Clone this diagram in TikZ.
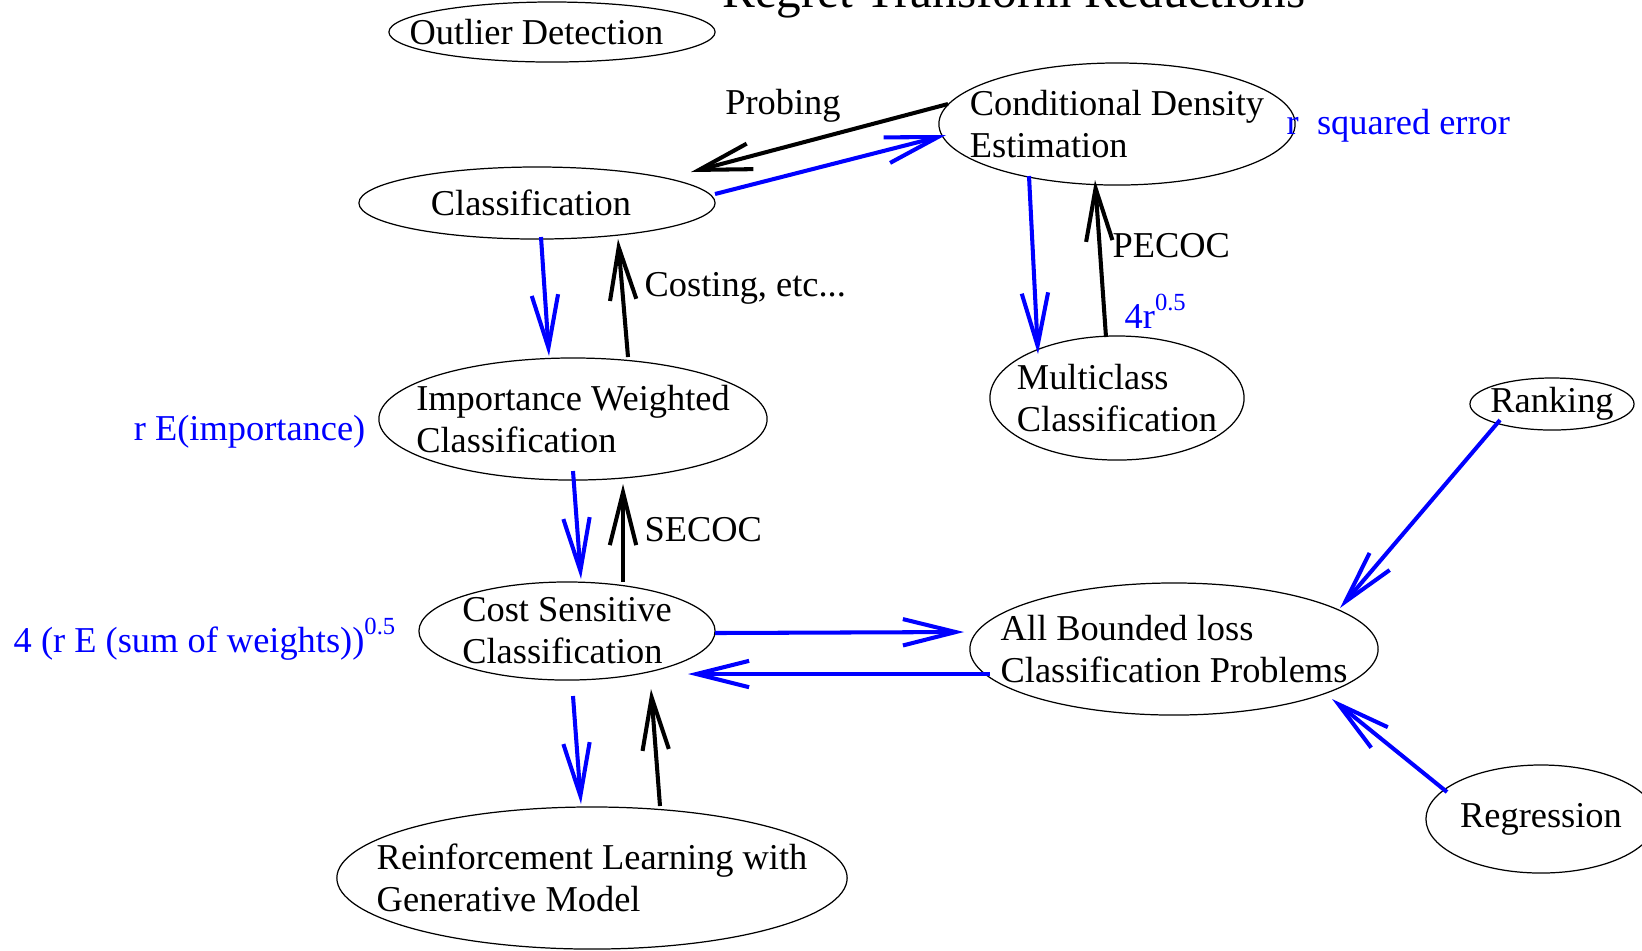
\documentclass[tikz,border=0pt]{standalone}
\usepackage{fontspec}
\setmainfont{Liberation Serif}
\usetikzlibrary{arrows.meta,calc,shapes.geometric}

\newcommand{\supnum}[1]{\raisebox{5pt}{\fontsize{7}{8}\selectfont #1}}

\begin{document}
\begin{tikzpicture}[
    x=0.01cm, y=-0.01cm,
    every node/.style={font=\fontsize{10.35}{11.95}\selectfont, inner sep=0pt},
    task/.style={draw=black, line width=0.35pt, ellipse, inner sep=-1cm, align=left},
    fwd/.style={-{Straight Barb[length=15pt,width=7.5pt]}, line width=1.15pt, color=blue},
    back/.style={-{Straight Barb[length=15pt,width=7.5pt]}, line width=1.15pt, color=black},
    bound/.style={text=blue}
]
\useasboundingbox (0,0) rectangle (1642,950);

\node[font=\fontsize{14}{17}\selectfont, anchor=base] (title) at (1014,7) {Regret Transform Reductions};

% --- Problems ---
\node[task, minimum width=3.26cm, minimum height=0.60cm] (outlier) at (552,32) {Outlier Detection\hspace{0.31cm}};
\node[task, minimum width=3.56cm, minimum height=1.22cm] (cde) at (1117,124) {Conditional Density\\Estimation};
\node[task, minimum width=3.56cm, minimum height=0.72cm] (cls) at (537,203) {Classification\hspace{0.12cm}};
\node[task, minimum width=3.88cm, minimum height=1.22cm] (iwc) at (573,419) {Importance Weighted\\Classification};
\node[task, minimum width=2.54cm, minimum height=1.24cm] (mcc) at (1117,398) {Multiclass\\Classification};
\node[task, minimum width=1.64cm, minimum height=0.52cm] (rank) at (1552,404) {Ranking};
\node[task, minimum width=2.96cm, minimum height=0.98cm] (csc) at (567,631) {Cost Sensitive\\Classification};
\node[task, minimum width=4.08cm, minimum height=1.32cm] (abl) at (1174,649) {All Bounded loss\\Classification Problems};
\node[task, minimum width=2.30cm, minimum height=1.08cm] (regr) at (1541,819) {Regression};
\node[task, minimum width=5.10cm, minimum height=1.42cm] (rlgm) at (592,878) {Reinforcement Learning with\\Generative Model};

% --- Reductions ---
\draw[back] ($(cde)+(-169,-20)$) -- ($(cls)+(154,-31)$);
\draw[fwd]  ($(cls)+(178,-9)$)   -- ($(cde)+(-171,11)$);
\draw[fwd]  ($(cls)+(4,34)$)     -- ($(iwc)+(-24,-63)$);
\draw[back] ($(iwc)+(55,-62)$)   -- ($(cls)+(81,36)$);
\draw[fwd]  ($(iwc)+(0,52)$)     -- ($(csc)+(14,-52)$);
\draw[back] ($(csc)+(56,-49)$)   -- ($(iwc)+(50,65)$);
\draw[fwd]  ($(cde)+(-88,52)$)   -- ($(mcc)+(-79,-44)$);
\draw[back] ($(mcc)+(-11,-61)$)  -- ($(cde)+(-22,56)$);
\draw[fwd]  ($(csc)+(148,2)$)    -- ($(abl)+(-210,-17)$);
\draw[fwd]  ($(abl)+(-184,25)$)  -- ($(csc)+(121,43)$);
\draw[fwd]  ($(csc)+(6,65)$)     -- ($(rlgm)+(-11,-74)$);
\draw[back] ($(rlgm)+(68,-72)$)  -- ($(csc)+(84,58)$);
\draw[fwd]  ($(rank)+(-52,16)$)  -- ($(abl)+(166,-41)$);
\draw[fwd]  ($(regr)+(-94,-27)$) -- ($(abl)+(158,50)$);

% --- Labels ---
\node[anchor=base] (probing) at (783,114) {Probing};
\node[anchor=base west] (costing) at (644,296) {Costing, etc...};
\node[anchor=base west] (secoc) at (644,541) {SECOC};
\node[anchor=base west] (pecoc) at (1112,257) {PECOC};
\node[bound, anchor=base west] (bmcc) at (1124,328) {4r\supnum{0.5}};
\node[bound, anchor=base west] (bcde) at (1286,134) {r\hspace{0.5em}squared error};
\node[bound, anchor=base east] (biwc) at (366,440) {r E(importance)};
\node[bound, anchor=base west] (bcsc) at (13,652) {4 (r E (sum of weights))\supnum{0.5}};

\end{tikzpicture}
\end{document}
